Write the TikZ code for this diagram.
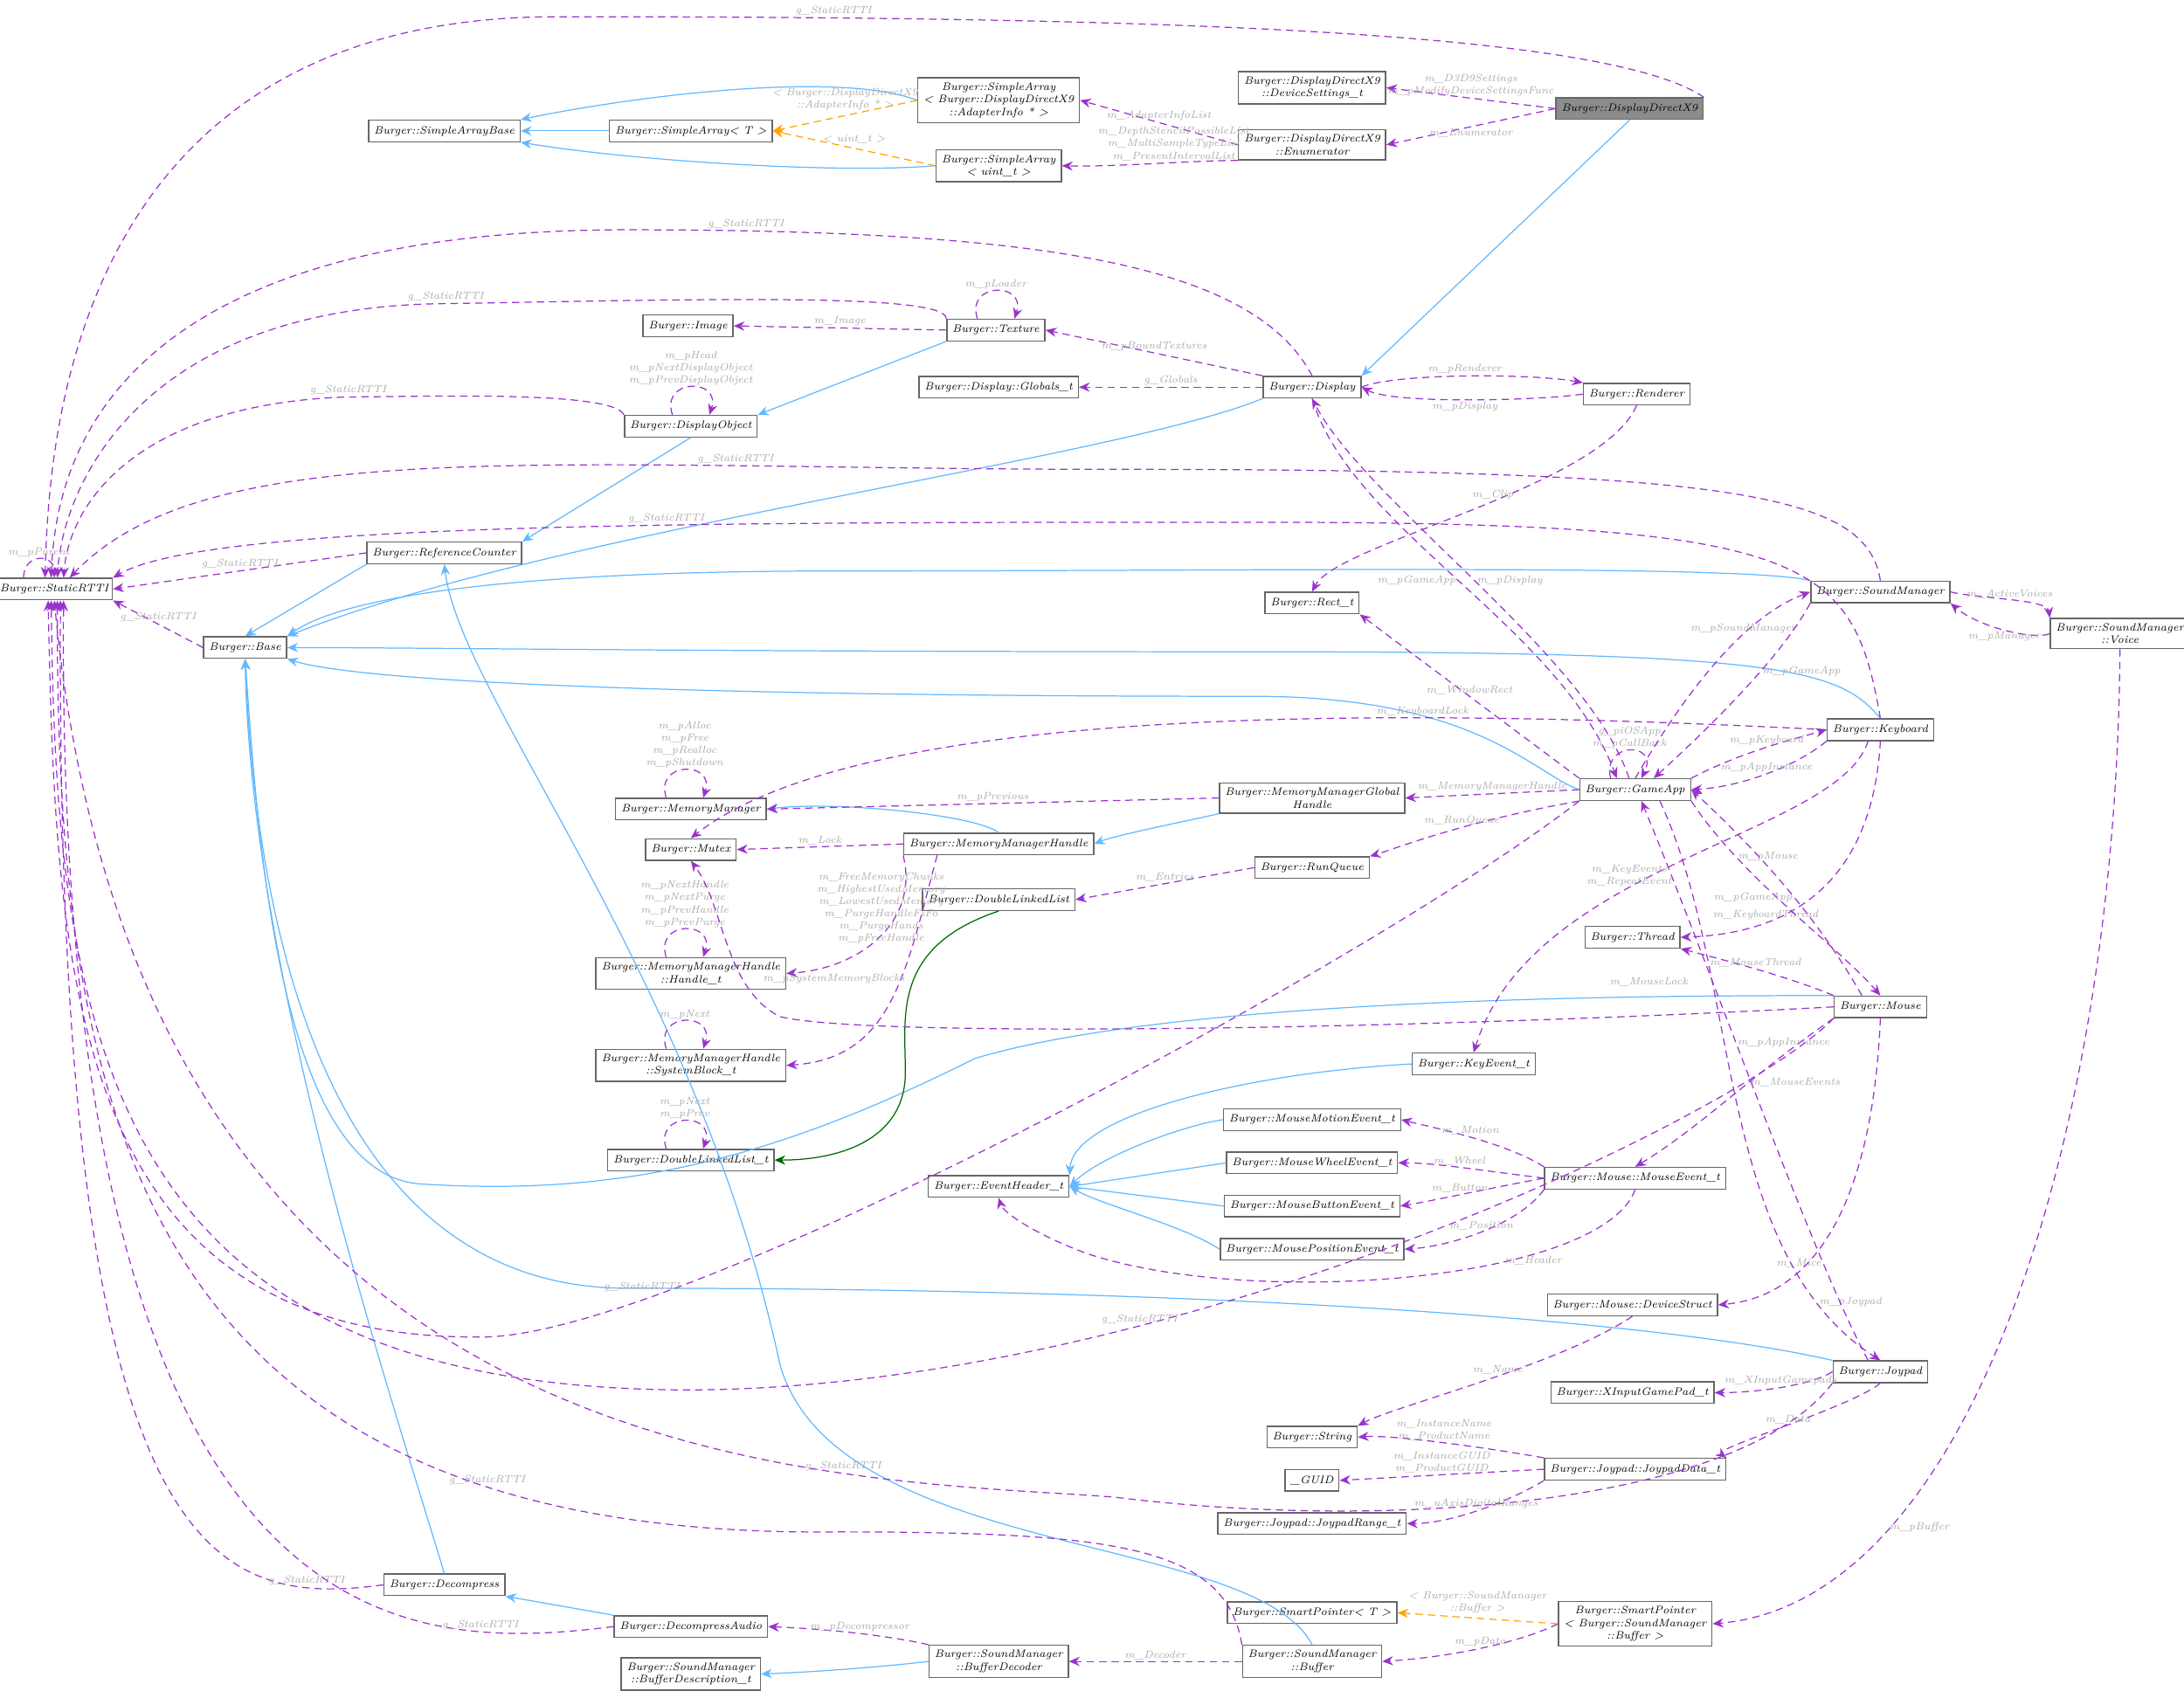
\documentclass[tikz,border=0pt]{standalone}
\usetikzlibrary{arrows.meta}
\definecolor{usecol}{HTML}{9A32CD}
\definecolor{inhcol}{HTML}{63B8FF}
\definecolor{tplcol}{HTML}{FFA500}
\definecolor{lblcol}{HTML}{A8A8A8}
\tikzset{
  cls/.style={draw=black!60, fill=white, font=\fontsize{3.5}{4.1}\selectfont\itshape, inner xsep=1.8pt, inner ysep=1.6pt, minimum height=7pt, align=center},
  lbl/.style={font=\fontsize{3.4}{4}\selectfont\itshape, text=lblcol, inner sep=0.5pt, align=center},
  use/.style={draw=usecol, dash pattern=on 2.4pt off 1.6pt, line width=0.35pt, -{Stealth[length=3.5pt,width=3pt]}},
  inh/.style={draw=inhcol, line width=0.35pt, -{Stealth[length=3.5pt,width=3pt]}},
  tpl/.style={draw=tplcol, dash pattern=on 2.4pt off 1.6pt, line width=0.35pt, -{Stealth[length=3.5pt,width=3pt]}},
  dll/.style={draw=black!50!green!80!black, line width=0.35pt, -{Stealth[length=3.5pt,width=3pt]}},
}
\begin{document}
\begin{tikzpicture}[x=0.0159cm,y=-0.0159cm]
\useasboundingbox (0,0) rectangle (1568,1219);

% classes
\node[cls, inner xsep=1.2pt] (rtti) at (39,423) {Burger::StaticRTTI};
\node[cls] (sabase) at (319,94) {Burger::SimpleArrayBase};
\node[cls] (sat) at (496,94) {Burger::SimpleArray\textless{} T \textgreater};
\node[cls] (saadapter) at (717,72) {Burger::SimpleArray\\\textless{} Burger::DisplayDirectX9\\::AdapterInfo * \textgreater};
\node[cls] (sauint) at (717,119) {Burger::SimpleArray\\\textless{} uint\_t \textgreater};
\node[cls] (devset) at (942,63) {Burger::DisplayDirectX9\\::DeviceSettings\_t};
\node[cls] (enumr) at (942,104) {Burger::DisplayDirectX9\\::Enumerator};
\node[cls, fill=black!45] (dx9) at (1170,78) {Burger::DisplayDirectX9};
\node[cls] (image) at (494,234) {Burger::Image};
\node[cls] (texture) at (715,237) {Burger::Texture};
\node[cls] (dobj) at (496,306) {Burger::DisplayObject};
\node[cls] (globals) at (717,278) {Burger::Display::Globals\_t};
\node[cls] (display) at (942,278) {Burger::Display};
\node[cls] (renderer) at (1175,283) {Burger::Renderer};
\node[cls] (refcnt) at (319,397) {Burger::ReferenceCounter};
\node[cls] (base) at (176,465) {Burger::Base};
\node[cls] (rect) at (942,433) {Burger::Rect\_t};
\node[cls] (sndmgr) at (1350,425) {Burger::SoundManager};
\node[cls] (voice) at (1522,455) {Burger::SoundManager\\::Voice};
\node[cls] (keyboard) at (1350,524) {Burger::Keyboard};
\node[cls] (gameapp) at (1174,567) {Burger::GameApp};
\node[cls] (memmgr) at (496,581) {Burger::MemoryManager};
\node[cls] (mutex) at (496,610) {Burger::Mutex};
\node[cls] (mmglobal) at (942,573) {Burger::MemoryManagerGlobal\\Handle};
\node[cls] (mmhandle) at (717,606) {Burger::MemoryManagerHandle};
\node[cls] (runqueue) at (942,623) {Burger::RunQueue};
\node[cls] (dll) at (717,646) {Burger::DoubleLinkedList};
\node[cls] (handlet) at (496,699) {Burger::MemoryManagerHandle\\::Handle\_t};
\node[cls] (sysblock) at (496,765) {Burger::MemoryManagerHandle\\::SystemBlock\_t};
\node[cls] (dllt) at (496,833) {Burger::DoubleLinkedList\_t};
\node[cls] (thread) at (1172,673) {Burger::Thread};
\node[cls] (mouse) at (1350,723) {Burger::Mouse};
\node[cls] (keyevent) at (1058,764) {Burger::KeyEvent\_t};
\node[cls] (mmotion) at (942,804) {Burger::MouseMotionEvent\_t};
\node[cls] (mwheel) at (942,835) {Burger::MouseWheelEvent\_t};
\node[cls] (eventhdr) at (717,852) {Burger::EventHeader\_t};
\node[cls] (mbutton) at (942,866) {Burger::MouseButtonEvent\_t};
\node[cls] (mevent) at (1174,846) {Burger::Mouse::MouseEvent\_t};
\node[cls] (mposition) at (942,897) {Burger::MousePositionEvent\_t};
\node[cls] (devstruct) at (1172,937) {Burger::Mouse::DeviceStruct};
\node[cls] (joypad) at (1350,985) {Burger::Joypad};
\node[cls] (xinput) at (1172,1000) {Burger::XInputGamePad\_t};
\node[cls] (string) at (942,1032) {Burger::String};
\node[cls] (jdata) at (1174,1055) {Burger::Joypad::JoypadData\_t};
\node[cls] (guid) at (942,1063) {\_GUID};
\node[cls] (jrange) at (942,1094) {Burger::Joypad::JoypadRange\_t};
\node[cls] (smartt) at (942,1158) {Burger::SmartPointer\textless{} T \textgreater};
\node[cls] (smartbuf) at (1174,1166) {Burger::SmartPointer\\\textless{} Burger::SoundManager\\::Buffer \textgreater};
\node[cls] (decompress) at (319,1138) {Burger::Decompress};
\node[cls] (decaudio) at (496,1168) {Burger::DecompressAudio};
\node[cls] (bufdecoder) at (717,1193) {Burger::SoundManager\\::BufferDecoder};
\node[cls] (buffer) at (942,1193) {Burger::SoundManager\\::Buffer};
\node[cls] (bufdesc) at (496,1202) {Burger::SoundManager\\::BufferDescription\_t};

% inheritance
\draw[inh] (sat) -- (sabase);
\draw[inh] (saadapter.west) .. controls (600,50) and (450,70) .. (sabase.north east);
\draw[inh] (sauint.west) .. controls (600,125) and (450,115) .. (sabase.south east);
\draw[inh] (dx9.south) -- (display.north east);
\draw[inh] (texture.south west) -- (dobj.north east);
\draw[inh] (dobj.south) -- (refcnt.north east);
\draw[inh] (display.south west) .. controls (800,330) and (400,380) .. (base.north east);
\draw[inh] (refcnt.south west) -- (base.north);
\draw[inh] (sndmgr.north west) .. controls (1250,405) and (900,410) .. (600,410) .. controls (300,410) and (230,440) .. (base.north east);
\draw[inh] (keyboard.north) .. controls (1320,480) and (1280,468) .. (900,468) .. controls (500,468) and (300,465) .. (base.east);
\draw[inh] (gameapp.west) .. controls (1100,555) and (1060,500) .. (900,500) .. controls (500,500) and (260,490) .. (base.south east);
\draw[inh] (mmglobal.south west) .. controls (850,590) and (800,600) .. (mmhandle.east);
\draw[inh] (mmhandle.north) .. controls (700,585) and (600,575) .. (memmgr.east);
\draw[inh] (mouse.north west) .. controls (1200,715) and (850,715) .. (700,760) .. controls (560,830) and (450,860) .. (300,850) .. controls (200,840) and (185,600) .. (base.south);
\draw[inh] (joypad.north west) .. controls (1200,950) and (900,925) .. (450,925) .. controls (250,925) and (185,700) .. (base.south);
\draw[inh] (decompress.north) .. controls (280,1000) and (180,700) .. (base.south);
\draw[inh] (decaudio.north west) -- (decompress.south east);
\draw[inh] (bufdecoder.west) .. controls (650,1195) and (600,1200) .. (bufdesc.east);
\draw[inh] (buffer.north) .. controls (900,1100) and (600,1120) .. (560,980) .. controls (500,700) and (330,500) .. (refcnt.south);
\draw[inh] (keyevent.west) .. controls (900,770) and (770,800) .. (eventhdr.north east);
\draw[inh] (mmotion.west) .. controls (850,808) and (790,830) .. (eventhdr.east);
\draw[inh] (mwheel.west) -- (eventhdr.east);
\draw[inh] (mbutton.west) -- (eventhdr.east);
\draw[inh] (mposition.west) .. controls (850,880) and (790,865) .. (eventhdr.east);
\draw[dll] (dll.south) .. controls (640,680) and (650,730) .. (650,770) .. controls (650,820) and (600,833) .. (dllt.east);

% templates
\draw[tpl] (saadapter.west) -- node[lbl,above=1pt]{\textless{} Burger::DisplayDirectX9\\::AdapterInfo * \textgreater} (sat.east);
\draw[tpl] (sauint.west) -- node[lbl,above=1pt]{\textless{} uint\_t \textgreater} (sat.east);
\draw[tpl] (smartbuf.west) -- node[lbl,above=1pt]{\textless{} Burger::SoundManager\\::Buffer \textgreater} (smartt.east);

% usage
\draw[use] (dx9.north east) .. controls (1150,20) and (800,12) .. (400,12) node[lbl,pos=0.83,above]{g\_StaticRTTI} .. controls (60,12) and (35,300) .. ([xshift=-3pt]rtti.north);
\draw[use] (dx9.west) -- node[lbl,above]{m\_D3D9Settings\\m\_pModifyDeviceSettingsFunc} (devset.east);
\draw[use] (dx9.west) -- node[lbl,below]{m\_Enumerator} (enumr.east);
\draw[use] (enumr.west) -- node[lbl,above]{m\_AdapterInfoList} (saadapter.east);
\draw[use] (enumr.south west) .. controls (860,115) and (800,120) .. node[lbl,above,pos=0.4]{m\_DepthStencilPossibleList\\m\_MultiSampleTypeList\\m\_PresentIntervalList} (sauint.east);
\draw[use] (display.north) .. controls (900,190) and (750,165) .. (450,165) node[lbl,pos=0.9,above]{g\_StaticRTTI} .. controls (80,165) and (40,330) .. ([xshift=-1pt]rtti.north);
\draw[use] (texture.north west) .. controls (680,210) and (500,215) .. (320,218) node[lbl,pos=1,above]{g\_StaticRTTI} .. controls (100,220) and (45,350) .. ([xshift=1pt]rtti.north);
\draw[use] (dobj.north west) .. controls (440,280) and (300,285) .. (250,285) node[lbl,above]{g\_StaticRTTI} .. controls (100,290) and (50,360) .. ([xshift=3pt]rtti.north);
\draw[use] (sndmgr.north) .. controls (1340,355) and (1250,337) .. (800,337) .. controls (400,337) and (150,310) .. ([xshift=5pt]rtti.north) node[lbl,pos=0.25,above]{g\_StaticRTTI};
\draw[use] (keyboard.north) .. controls (1330,400) and (1300,375) .. (900,375) .. controls (500,375) and (150,375) .. (rtti.north east) node[lbl,pos=0.38,above]{g\_StaticRTTI};
\draw[use] (refcnt.west) -- node[lbl,above]{g\_StaticRTTI} (rtti.east);
\draw[use] (base.west) -- node[lbl,above]{g\_StaticRTTI} (rtti.south east);
\draw[use] ([xshift=-10pt]rtti.north) .. controls +(0,8pt) and +(0,8pt) .. node[lbl,above]{m\_pParent} ([xshift=0pt]rtti.north);
\draw[use] (gameapp.south west) .. controls (1000,680) and (500,955) .. (350,960) node[lbl,pos=0.82,above=2pt]{g\_StaticRTTI} .. controls (50,965) and (40,700) .. ([xshift=-2pt]rtti.south);
\draw[use] (mouse.south west) .. controls (1250,800) and (850,995) .. (500,998) node[lbl,pos=0.7,above]{g\_StaticRTTI} .. controls (80,1000) and (40,750) .. ([xshift=-1pt]rtti.south);
\draw[use] (joypad.south west) .. controls (1250,1080) and (1000,1100) .. (800,1075) .. controls (600,1060) and (100,1070) .. (rtti.south) node[lbl,pos=0.25,above]{g\_StaticRTTI};
\draw[use] (buffer.north west) .. controls (880,1110) and (800,1100) .. (600,1100) .. controls (100,1105) and (40,800) .. ([xshift=1pt]rtti.south) node[lbl,pos=0.2,above]{g\_StaticRTTI};
\draw[use] (decompress.west) .. controls (150,1155) and (40,1120) .. ([xshift=2pt]rtti.south) node[lbl,pos=0.15,above]{g\_StaticRTTI};
\draw[use] (decaudio.west) .. controls (300,1185) and (40,1200) .. ([xshift=3pt]rtti.south) node[lbl,pos=0.2,above]{g\_StaticRTTI};
\draw[use] ([xshift=-6pt]texture.north) .. controls +(-4pt,12pt) and +(4pt,12pt) .. node[lbl,above]{m\_pLoader} ([xshift=6pt]texture.north);
\draw[use] (texture.west) -- node[lbl,above]{m\_Image} (image.east);
\draw[use] (display.north west) -- node[lbl,above]{m\_pBoundTextures} (texture.east);
\draw[use] (display.west) -- node[lbl,above]{g\_Globals} (globals.east);
\draw[use] (display.east) .. controls (1000,268) and (1100,268) .. node[lbl,above]{m\_pRenderer} (renderer.north west);
\draw[use] (renderer.west) .. controls (1100,288) and (1000,290) .. node[lbl,below]{m\_pDisplay} (display.east);
\draw[use] ([xshift=-6pt]dobj.north) .. controls +(-4pt,12pt) and +(4pt,12pt) .. node[lbl,above]{m\_pHead\\m\_pNextDisplayObject\\m\_pPrevDisplayObject} ([xshift=6pt]dobj.north);
\draw[use] (renderer.south) .. controls (1150,350) and (960,390) .. node[lbl,pos=0.45,above]{m\_Clip} (rect.north);
\draw[use] (gameapp.north west) -- node[lbl,above,pos=0.5]{m\_WindowRect} (rect.south east);
\draw[use] (display.south) .. controls (970,380) and (1120,450) .. node[lbl,pos=0.5,left]{m\_pGameApp} ([xshift=-6pt]gameapp.north);
\draw[use] ([xshift=-2pt]gameapp.north) .. controls (1140,470) and (980,360) .. node[lbl,pos=0.5,right]{m\_pDisplay} (display.south);
\draw[use] ([xshift=-8pt]gameapp.north) .. controls +(-3pt,12pt) and +(6pt,12pt) .. node[lbl,above]{g\_piOSApp\\m\_pCallBack} ([xshift=2pt]gameapp.north);
\draw[use] (gameapp.north) .. controls (1220,480) and (1260,440) .. node[lbl,pos=0.6,above]{m\_pSoundManager} (sndmgr.west);
\draw[use] (sndmgr.south west) .. controls (1280,470) and (1230,520) .. node[lbl,pos=0.4,right]{m\_pGameApp} ([xshift=6pt]gameapp.north);
\draw[use] (sndmgr.east) .. controls (1420,430) and (1470,430) .. node[lbl,above]{m\_ActiveVoices} (voice.north west);
\draw[use] (voice.west) .. controls (1460,460) and (1420,450) .. node[lbl,below]{m\_pManager} (sndmgr.south east);
\draw[use] (gameapp.north east) .. controls (1250,540) and (1290,530) .. node[lbl,above]{m\_pKeyboard} (keyboard.west);
\draw[use] (keyboard.south west) .. controls (1290,550) and (1250,565) .. node[lbl,above]{m\_pAppInstance} (gameapp.east);
\draw[use] (keyboard.west) .. controls (1000,508) and (620,505) .. node[lbl,pos=0.3,above]{m\_KeyboardLock} (mutex.north);
\draw[use] (keyboard.south) .. controls (1345,620) and (1300,670) .. node[lbl,pos=0.75,above]{m\_KeyboardThread} (thread.east);
\draw[use] ([xshift=-4pt]keyboard.south) .. controls (1320,600) and (1100,620) .. node[lbl,pos=0.6,above]{m\_KeyEvents\\m\_RepeatEvent} (keyevent.north);
\draw[use] (gameapp.west) -- node[lbl,above]{m\_MemoryManagerHandle} (mmglobal.east);
\draw[use] (mmglobal.west) -- node[lbl,above]{m\_pPrevious} (memmgr.east);
\draw[use] (gameapp.south west) .. controls (1050,590) and (1000,610) .. node[lbl,pos=0.4,above]{m\_RunQueue} (runqueue.north east);
\draw[use] ([xshift=-8pt]memmgr.north) .. controls +(-4pt,12pt) and +(4pt,12pt) .. node[lbl,above]{m\_pAlloc\\m\_pFree\\m\_pRealloc\\m\_pShutdown} ([xshift=4pt]memmgr.north);
\draw[use] (mmhandle.west) -- node[lbl,above]{m\_Lock} (mutex.east);
\draw[use] (mmhandle.south west) .. controls (660,660) and (620,695) .. node[lbl,pos=0.3,xshift=-6pt]{m\_FreeMemoryChunks\\m\_HighestUsedMemory\\m\_LowestUsedMemory\\m\_PurgeHandleFiFo\\m\_PurgeHands\\m\_pFreeHandle} (handlet.east);
\draw[use] ([xshift=-20pt]mmhandle.south) .. controls (650,700) and (640,760) .. node[lbl,pos=0.4,left=-2pt]{m\_pSystemMemoryBlocks} (sysblock.east);
\draw[use] ([xshift=-8pt]handlet.north) .. controls +(-4pt,12pt) and +(4pt,12pt) .. node[lbl,above]{m\_pNextHandle\\m\_pNextPurge\\m\_pPrevHandle\\m\_pPrevPurge} ([xshift=4pt]handlet.north);
\draw[use] ([xshift=-8pt]sysblock.north) .. controls +(-4pt,12pt) and +(4pt,12pt) .. node[lbl,above]{m\_pNext} ([xshift=4pt]sysblock.north);
\draw[use] ([xshift=-8pt]dllt.north) .. controls +(-4pt,12pt) and +(4pt,12pt) .. node[lbl,above]{m\_pNext\\m\_pPrev} ([xshift=4pt]dllt.north);
\draw[use] (runqueue.west) -- node[lbl,above]{m\_Entries} (dll.east);
\draw[use] (gameapp.south east) .. controls (1250,630) and (1320,680) .. node[lbl,pos=0.25,right]{m\_pMouse} (mouse.north);
\draw[use] ([xshift=-6pt]mouse.north) .. controls (1300,650) and (1250,600) .. node[lbl,pos=0.4,left]{m\_pGameApp} (gameapp.east);
\draw[use] (mouse.north west) .. controls (1280,700) and (1240,690) .. node[lbl,above]{m\_MouseThread} (thread.south east);
\draw[use] (mouse.west) .. controls (1000,740) and (620,745) .. (560,730) node[lbl,pos=0,above=6pt,xshift=-60pt]{m\_MouseLock} .. controls (520,710) and (520,650) .. (mutex.south);
\draw[use] (mouse.south west) .. controls (1260,770) and (1220,810) .. node[lbl,pos=0.4,right]{m\_MouseEvents} (mevent.north);
\draw[use] (mouse.south) .. controls (1345,850) and (1310,930) .. node[lbl,pos=0.7,above]{m\_Mice} (devstruct.east);
\draw[use] (mevent.north west) .. controls (1080,820) and (1030,810) .. node[lbl,above]{m\_Motion} (mmotion.east);
\draw[use] (mevent.west) .. controls (1060,840) and (1030,835) .. node[lbl,above]{m\_Wheel} (mwheel.east);
\draw[use] (mevent.west) .. controls (1060,855) and (1030,862) .. node[lbl,above]{m\_Button} (mbutton.east);
\draw[use] (mevent.south west) .. controls (1090,880) and (1040,895) .. node[lbl,above]{m\_Position} (mposition.east);
\draw[use] (mevent.south) .. controls (1150,920) and (900,940) .. (780,900) node[lbl,pos=0.3,below]{m\_Header} .. controls (740,885) and (720,870) .. (eventhdr.south);
\draw[use] ([xshift=8pt]gameapp.south) .. controls (1250,700) and (1230,900) .. node[lbl,pos=0.85,right]{m\_pJoypad} (joypad.north);
\draw[use] ([xshift=-4pt]joypad.north) .. controls (1300,900) and (1230,700) .. node[lbl,pos=0.6,right]{m\_pAppInstance} ([xshift=2pt]gameapp.south);
\draw[use] (devstruct.south) .. controls (1120,980) and (1000,1010) .. node[lbl,pos=0.45,above]{m\_Name} (string.north east);
\draw[use] (joypad.west) .. controls (1300,995) and (1260,1000) .. node[lbl,above]{m\_XInputGamepads} (xinput.east);
\draw[use] (joypad.south) .. controls (1330,1010) and (1230,1040) .. node[lbl,pos=0.5,above]{m\_Data} (jdata.north east);
\draw[use] (jdata.north west) .. controls (1070,1040) and (1000,1030) .. node[lbl,above]{m\_InstanceName\\m\_ProductName} (string.east);
\draw[use] (jdata.west) -- node[lbl,above]{m\_InstanceGUID\\m\_ProductGUID} (guid.east);
\draw[use] (jdata.south west) .. controls (1080,1080) and (1040,1094) .. node[lbl,above]{m\_uAxisDigitalRanges} (jrange.east);
\draw[use] (voice.south) .. controls (1520,800) and (1420,1150) .. node[lbl,pos=0.75,right]{m\_pBuffer} (smartbuf.east);
\draw[use] (smartbuf.west) .. controls (1090,1180) and (1040,1190) .. node[lbl,above]{m\_pData} (buffer.east);
\draw[use] (buffer.west) -- node[lbl,above]{m\_Decoder} (bufdecoder.east);
\draw[use] (bufdecoder.north west) .. controls (640,1175) and (600,1170) .. node[lbl,above]{m\_pDecompressor} (decaudio.east);
\end{tikzpicture}
\end{document}
